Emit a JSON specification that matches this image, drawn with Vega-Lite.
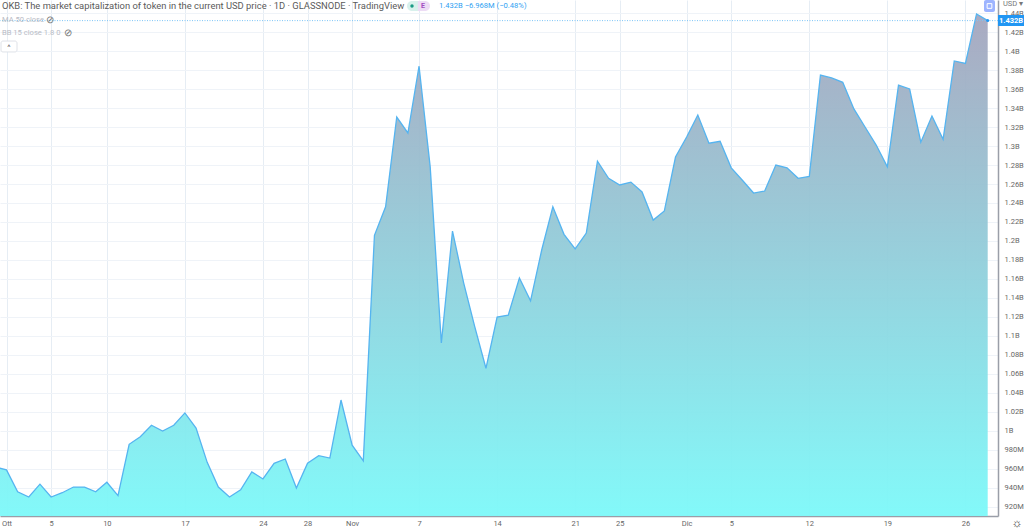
{"$schema":"https://vega.github.io/schema/vega-lite/v6.json","width":998,"height":516,"autosize":"none","padding":{"left":0,"top":0,"right":26,"bottom":15},"background":"white","config":{"view":{"stroke":null},"font":"Roboto"},
"data":{"values":[{}]},
"datasets":{"cap":[
{"date":"2020-09-30","cap":962},{"date":"2020-10-01","cap":959},{"date":"2020-10-02","cap":936},{"date":"2020-10-03","cap":930.5},{"date":"2020-10-04","cap":944},{"date":"2020-10-05","cap":930.5},{"date":"2020-10-06","cap":935},{"date":"2020-10-07","cap":941},{"date":"2020-10-08","cap":941},{"date":"2020-10-09","cap":936},{"date":"2020-10-10","cap":946},{"date":"2020-10-11","cap":932},{"date":"2020-10-12","cap":986},{"date":"2020-10-13","cap":994},{"date":"2020-10-14","cap":1006},{"date":"2020-10-15","cap":1000},{"date":"2020-10-16","cap":1006},{"date":"2020-10-17","cap":1019},{"date":"2020-10-18","cap":1003},{"date":"2020-10-19","cap":967},{"date":"2020-10-20","cap":941},{"date":"2020-10-21","cap":930.5},{"date":"2020-10-22","cap":938},{"date":"2020-10-23","cap":957},{"date":"2020-10-24","cap":949.5},{"date":"2020-10-25","cap":966},{"date":"2020-10-26","cap":970.5},{"date":"2020-10-27","cap":940},{"date":"2020-10-28","cap":966},{"date":"2020-10-29","cap":974},{"date":"2020-10-30","cap":971.5},{"date":"2020-10-31","cap":1032.6},
{"date":"2020-11-01","cap":985},{"date":"2020-11-02","cap":968.5},{"date":"2020-11-03","cap":1206},{"date":"2020-11-04","cap":1236},{"date":"2020-11-05","cap":1330.5},{"date":"2020-11-06","cap":1313.7},{"date":"2020-11-07","cap":1384},{"date":"2020-11-08","cap":1278},{"date":"2020-11-09","cap":1092.6},{"date":"2020-11-10","cap":1210.5},{"date":"2020-11-11","cap":1156},{"date":"2020-11-12","cap":1109.5},{"date":"2020-11-13","cap":1066},{"date":"2020-11-14","cap":1120},{"date":"2020-11-15","cap":1122},{"date":"2020-11-16","cap":1161},{"date":"2020-11-17","cap":1137},{"date":"2020-11-18","cap":1190.5},{"date":"2020-11-19","cap":1236},{"date":"2020-11-20","cap":1207},{"date":"2020-11-21","cap":1191.6},{"date":"2020-11-22","cap":1208.4},{"date":"2020-11-23","cap":1284},{"date":"2020-11-24","cap":1266},{"date":"2020-11-25","cap":1259},{"date":"2020-11-26","cap":1262},{"date":"2020-11-27","cap":1251.6},{"date":"2020-11-28","cap":1222},{"date":"2020-11-29","cap":1231.6},{"date":"2020-11-30","cap":1288.4},
{"date":"2020-12-01","cap":1309.5},{"date":"2020-12-02","cap":1332.6},{"date":"2020-12-03","cap":1303},{"date":"2020-12-04","cap":1305},{"date":"2020-12-05","cap":1277},{"date":"2020-12-06","cap":1264},{"date":"2020-12-07","cap":1250.5},{"date":"2020-12-08","cap":1252.6},{"date":"2020-12-09","cap":1280},{"date":"2020-12-10","cap":1277},{"date":"2020-12-11","cap":1266},{"date":"2020-12-12","cap":1268},{"date":"2020-12-13","cap":1374.7},{"date":"2020-12-14","cap":1371.6},{"date":"2020-12-15","cap":1367},{"date":"2020-12-16","cap":1339},{"date":"2020-12-17","cap":1320},{"date":"2020-12-18","cap":1301},{"date":"2020-12-19","cap":1278},{"date":"2020-12-20","cap":1364},{"date":"2020-12-21","cap":1360},{"date":"2020-12-22","cap":1304},{"date":"2020-12-23","cap":1331.6},{"date":"2020-12-24","cap":1307},{"date":"2020-12-25","cap":1389.5},{"date":"2020-12-26","cap":1387},{"date":"2020-12-27","cap":1439},{"date":"2020-12-28","cap":1432}
]},
"layer":[
{"data":{"name":"cap"},"mark":{"type":"area","fill":{"x1":0,"y1":0,"x2":0,"y2":1,"gradient":"linear","stops":[{"offset":0,"color":"rgba(163,163,188,0.92)"},{"offset":1,"color":"rgba(124,249,249,0.95)"}]}},
"encoding":{"x":{"field":"date","type":"temporal","title":null,"scale":{"domain":[1601460032000,1609193414000]},"axis":{"values":[1601510400000,1601856000000,1602288000000,1602892800000,1603497600000,1603843200000,1604188800000,1604707200000,1605312000000,1605916800000,1606262400000,1606780800000,1607126400000,1607731200000,1608336000000,1608940800000],"tickCount":40,"labelExpr":"utcdate(datum.value)==1 ? (utcmonth(datum.value)==9?'Ott':utcmonth(datum.value)==10?'Nov':'Dic') : ''+utcdate(datum.value)","grid":true,"gridColor":"#e6edf4","gridWidth":1,"ticks":false,"domainColor":"#9a9ea8","domainWidth":1.5,"labelColor":"#666","labelFontSize":7.5,"labelPadding":3,"labelFlush":false,"labelOverlap":false}},
"y":{"field":"cap","type":"quantitative","title":null,"scale":{"domain":[910.5,1453.7],"zero":false,"nice":false},"axis":{"orient":"right","values":[920,940,960,980,1000,1020,1040,1060,1080,1100,1120,1140,1160,1180,1200,1220,1240,1260,1280,1300,1320,1340,1360,1380,1400,1420,1440],"tickCount":40,"labelExpr":"datum.value>=1000 ? (datum.value/1000)+'B' : datum.value+'M'","grid":true,"gridColor":"#eff3f8","gridWidth":1,"ticks":false,"domainColor":"#9a9ea8","domainWidth":1.5,"labelColor":"#666","labelFontSize":7.5,"labelPadding":6,"labelOverlap":false,"labelFlush":false}},
"y2":{"datum":910.5}}},
{"data":{"name":"cap"},"mark":{"type":"line","stroke":"#55b4f0","strokeWidth":1.3},"encoding":{"x":{"field":"date","type":"temporal","title":null},"y":{"field":"cap","type":"quantitative","title":null}}},
{"mark":{"type":"rule","stroke":"#7cc4f7","strokeWidth":1,"strokeDash":[1,1.5]},"encoding":{"y":{"datum":1432}}},
{"mark":{"type":"point","filled":true,"color":"#2196f3","size":9,"opacity":1},"encoding":{"x":{"datum":1609113600000,"type":"temporal"},"y":{"datum":1432}}},
{"mark":{"type":"text","align":"left","baseline":"middle","fontSize":9.4,"color":"#5a5a5a"},"encoding":{"x":{"datum":1601475530000,"type":"temporal"},"y":{"datum":1447.4},"text":{"value":"OKB: The market capitalization of token in the current USD price · 1D · GLASSNODE · TradingView"}}},
{"mark":{"type":"rect","fill":"#d8f1ec","cornerRadiusTopLeft":5,"cornerRadiusBottomLeft":5},"encoding":{"x":{"datum":1604613826000,"type":"temporal"},"x2":{"datum":1604699064000},"y":{"datum":1452.6},"y2":{"datum":1442.1}}},
{"mark":{"type":"rect","fill":"#eddcf5","cornerRadiusTopRight":5,"cornerRadiusBottomRight":5},"encoding":{"x":{"datum":1604699064000,"type":"temporal"},"x2":{"datum":1604792050000},"y":{"datum":1452.6},"y2":{"datum":1442.1}}},
{"mark":{"type":"point","filled":true,"shape":"circle","color":"#1a9a85","size":12,"opacity":1},"encoding":{"x":{"datum":1604652570000,"type":"temporal"},"y":{"datum":1447.4}}},
{"mark":{"type":"text","align":"center","baseline":"middle","fontSize":7,"fontWeight":"bold","color":"#a24dc0"},"encoding":{"x":{"datum":1604737808000,"type":"temporal"},"y":{"datum":1447.4},"text":{"value":"E"}}},
{"mark":{"type":"text","align":"left","baseline":"middle","fontSize":7.6,"color":"#2f9ff2"},"encoding":{"x":{"datum":1604861790000,"type":"temporal"},"y":{"datum":1447.4},"text":{"value":"1.432B  −6.968M (−0.48%)"}}},
{"mark":{"type":"text","align":"left","baseline":"middle","fontSize":7.6,"color":"#b9bcc6"},"encoding":{"x":{"datum":1601475530000,"type":"temporal"},"y":{"datum":1432.6},"text":{"value":"MA 50 close"}}},
{"mark":{"type":"text","align":"center","baseline":"middle","fontSize":10,"color":"#777"},"encoding":{"x":{"datum":1601847476000,"type":"temporal"},"y":{"datum":1432.6},"text":{"value":"⊘"}}},
{"mark":{"type":"text","align":"left","baseline":"middle","fontSize":7.6,"color":"#b9bcc6"},"encoding":{"x":{"datum":1601475530000,"type":"temporal"},"y":{"datum":1419},"text":{"value":"BB 15 close 1.8 0"}}},
{"mark":{"type":"text","align":"center","baseline":"middle","fontSize":10,"color":"#777"},"encoding":{"x":{"datum":1601986956000,"type":"temporal"},"y":{"datum":1419},"text":{"value":"⊘"}}},
{"mark":{"type":"rect","fill":"white","stroke":"#dfe2e8","strokeWidth":1,"cornerRadius":2},"encoding":{"x":{"datum":1601467781000,"type":"temporal"},"x2":{"datum":1601591763000},"y":{"datum":1410.5},"y2":{"datum":1399}}},
{"mark":{"type":"text","align":"center","baseline":"middle","fontSize":8,"color":"#666"},"encoding":{"x":{"datum":1601529772000,"type":"temporal"},"y":{"datum":1403.5},"text":{"value":"^"}}},
{"mark":{"type":"rect","fill":"#2196f3"},"encoding":{"x":{"datum":1609193414000,"type":"temporal"},"x2":{"datum":1609394884000},"y":{"datum":1437.9},"y2":{"datum":1426.3}}},
{"mark":{"type":"text","align":"center","baseline":"middle","fontSize":7.5,"fontWeight":"bold","color":"white"},"encoding":{"x":{"datum":1609294149000,"type":"temporal"},"y":{"datum":1432.1},"text":{"value":"1.432B"}}},
{"mark":{"type":"text","align":"left","baseline":"middle","fontSize":7.5,"color":"#777"},"encoding":{"x":{"datum":1609232157000,"type":"temporal"},"y":{"datum":1449.5},"text":{"value":"USD ▾"}}},
{"mark":{"type":"rect","fill":"#9db4ff","cornerRadius":2},"encoding":{"x":{"datum":1609084929000,"type":"temporal"},"x2":{"datum":1609170167000},"y":{"datum":1453.7},"y2":{"datum":1441}}},
{"mark":{"type":"point","shape":"square","filled":false,"stroke":"white","strokeWidth":1,"size":22,"opacity":1},"encoding":{"x":{"datum":1609127548000,"type":"temporal"},"y":{"datum":1447.4}}},
{"mark":{"type":"text","align":"center","baseline":"middle","fontSize":12,"color":"#444"},"encoding":{"x":{"datum":1609340642000,"type":"temporal"},"y":{"datum":903},"text":{"value":"☼"}}}
]}
